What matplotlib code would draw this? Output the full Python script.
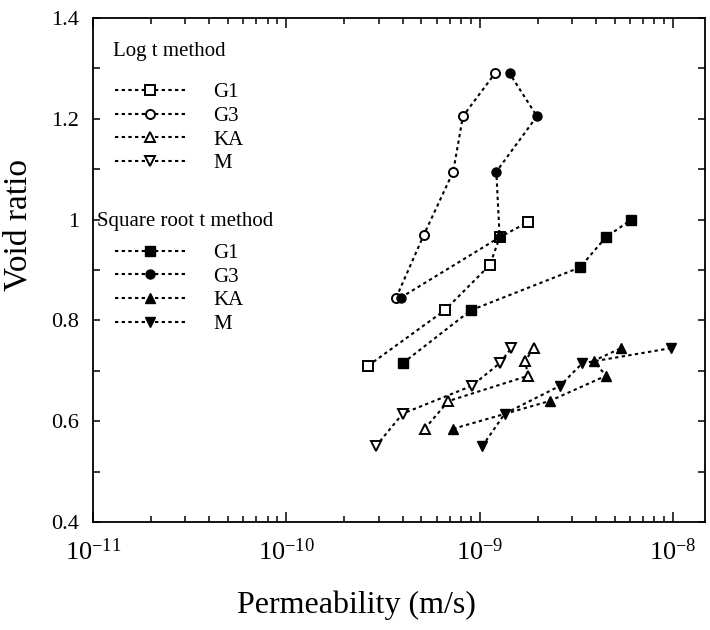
import matplotlib
matplotlib.use("Agg")
import matplotlib.pyplot as plt
from matplotlib.ticker import FixedLocator, LogLocator, NullFormatter, FixedFormatter

plt.rcParams['font.family'] = ['Liberation Serif', 'DejaVu Serif']
plt.rcParams['mathtext.fontset'] = 'custom'
plt.rcParams['mathtext.rm'] = 'Liberation Serif'
plt.rcParams['mathtext.it'] = 'Liberation Serif:italic'

# ---- data: permeability (m/s) vs void ratio ----
logt_G1_k = [2.65e-10, 6.6e-10, 1.13e-9, 1.27e-9, 1.78e-9]
logt_G1_e = [0.71, 0.82, 0.91, 0.965, 0.995]
logt_G3_k = [3.7e-10, 5.15e-10, 7.3e-10, 8.2e-10, 1.2e-9]
logt_G3_e = [0.845, 0.97, 1.095, 1.205, 1.29]
logt_KA_k = [5.2e-10, 6.9e-10, 1.78e-9, 1.72e-9, 1.91e-9]
logt_KA_e = [0.585, 0.64, 0.69, 0.72, 0.745]
logt_M_k = [2.9e-10, 4.0e-10, 9.1e-10, 1.27e-9, 1.46e-9]
logt_M_e = [0.55, 0.615, 0.67, 0.715, 0.745]

sqrt_G1_k = [4.0e-10, 9.0e-10, 3.3e-9, 4.5e-9, 6.1e-9]
sqrt_G1_e = [0.715, 0.82, 0.905, 0.965, 1.0]
sqrt_G3_k = [3.9e-10, 1.27e-9, 1.22e-9, 1.98e-9, 1.43e-9]
sqrt_G3_e = [0.845, 0.965, 1.095, 1.205, 1.29]
sqrt_KA_k = [7.3e-10, 2.3e-9, 4.5e-9, 3.9e-9, 5.4e-9]
sqrt_KA_e = [0.585, 0.64, 0.69, 0.72, 0.745]
sqrt_M_k = [1.03e-9, 1.35e-9, 2.6e-9, 3.4e-9, 9.8e-9]
sqrt_M_e = [0.55, 0.615, 0.67, 0.715, 0.745]

series_labels = ["G1", "G3", "KA", "M"]
y_ticks = [0.4, 0.6, 0.8, 1.0, 1.2, 1.4]
y_tick_labels = ["0.4", "0.6", "0.8", "1", "1.2", "1.4"]
x_ticks = [1e-11, 1e-10, 1e-9, 1e-8]
x_tick_labels = [r"$\mathregular{10^{-11}}$", r"$\mathregular{10^{-10}}$",
                 r"$\mathregular{10^{-9}}$", r"$\mathregular{10^{-8}}$"]

fig = plt.figure(figsize=(7.1, 6.3), dpi=100)
ax = fig.add_axes([93/710, 108/630, 612/710, 504/630])

line_kw = dict(color='black', linestyle=(0, (1.6, 1.6)), linewidth=1.5)
open_kw = dict(markerfacecolor='white', markeredgecolor='black', markeredgewidth=1.4)
fill_kw = dict(markerfacecolor='black', markeredgecolor='black', markeredgewidth=1.0)

logt = [(logt_G1_k, logt_G1_e, 's', 6.5), (logt_G3_k, logt_G3_e, 'o', 6.5),
        (logt_KA_k, logt_KA_e, '^', 7), (logt_M_k, logt_M_e, 'v', 7)]
sqrt = [(sqrt_G1_k, sqrt_G1_e, 's', 6.5), (sqrt_G3_k, sqrt_G3_e, 'o', 6.5),
        (sqrt_KA_k, sqrt_KA_e, '^', 7), (sqrt_M_k, sqrt_M_e, 'v', 7)]

h_log = []
for (k, e, m, ms), lab in zip(logt, series_labels):
    h, = ax.plot(k, e, marker=m, markersize=ms, label=lab, **line_kw, **open_kw)
    h_log.append(h)
h_sqrt = []
for (k, e, m, ms), lab in zip(sqrt, series_labels):
    h, = ax.plot(k, e, marker=m, markersize=ms, label=lab, **line_kw, **fill_kw)
    h_sqrt.append(h)

ax.set_xscale('log')
ax.set_xlim(1e-11, 10 ** -7.834)
ax.set_ylim(0.4, 1.4)

ax.xaxis.set_major_locator(FixedLocator(x_ticks))
ax.xaxis.set_major_formatter(FixedFormatter(x_tick_labels))
ax.xaxis.set_minor_locator(LogLocator(base=10, subs=range(2, 10), numticks=20))
ax.xaxis.set_minor_formatter(NullFormatter())
ax.yaxis.set_major_locator(FixedLocator(y_ticks))
ax.yaxis.set_major_formatter(FixedFormatter(y_tick_labels))
ax.yaxis.set_minor_locator(FixedLocator([0.5, 0.7, 0.9, 1.1, 1.3]))

ax.tick_params(which='both', direction='in', top=True, right=True, width=1.1)
ax.tick_params(axis='x', which='major', length=7, labelsize=19, pad=12)
ax.tick_params(axis='x', which='minor', length=4)
ax.tick_params(axis='y', which='both', length=5, labelsize=16, pad=10)
for sp in ax.spines.values():
    sp.set_linewidth(1.3)

ax.set_xlabel("Permeability (m/s)", fontsize=23)
ax.xaxis.set_label_coords(0.431, -0.135)
ax.set_ylabel("Void ratio", fontsize=24)
ax.yaxis.set_label_coords(-0.097, 0.59)

# legends
ax.text(0.033, 0.933, "Log t method", transform=ax.transAxes, fontsize=15,
        ha='left', va='center')
ax.text(0.0065, 0.596, "Square root t method", transform=ax.transAxes, fontsize=15,
        ha='left', va='center')
leg_kw = dict(loc='upper left', frameon=False, fontsize=15, handlelength=3.4,
              handletextpad=1.3, labelspacing=0.2, borderpad=0, borderaxespad=0,
              numpoints=1)
leg1 = ax.legend(handles=h_log, bbox_to_anchor=(0.036, 0.872), **leg_kw)
ax.add_artist(leg1)
leg2 = ax.legend(handles=h_sqrt, bbox_to_anchor=(0.036, 0.553), **leg_kw)

fig.savefig("out.png", dpi=100)
